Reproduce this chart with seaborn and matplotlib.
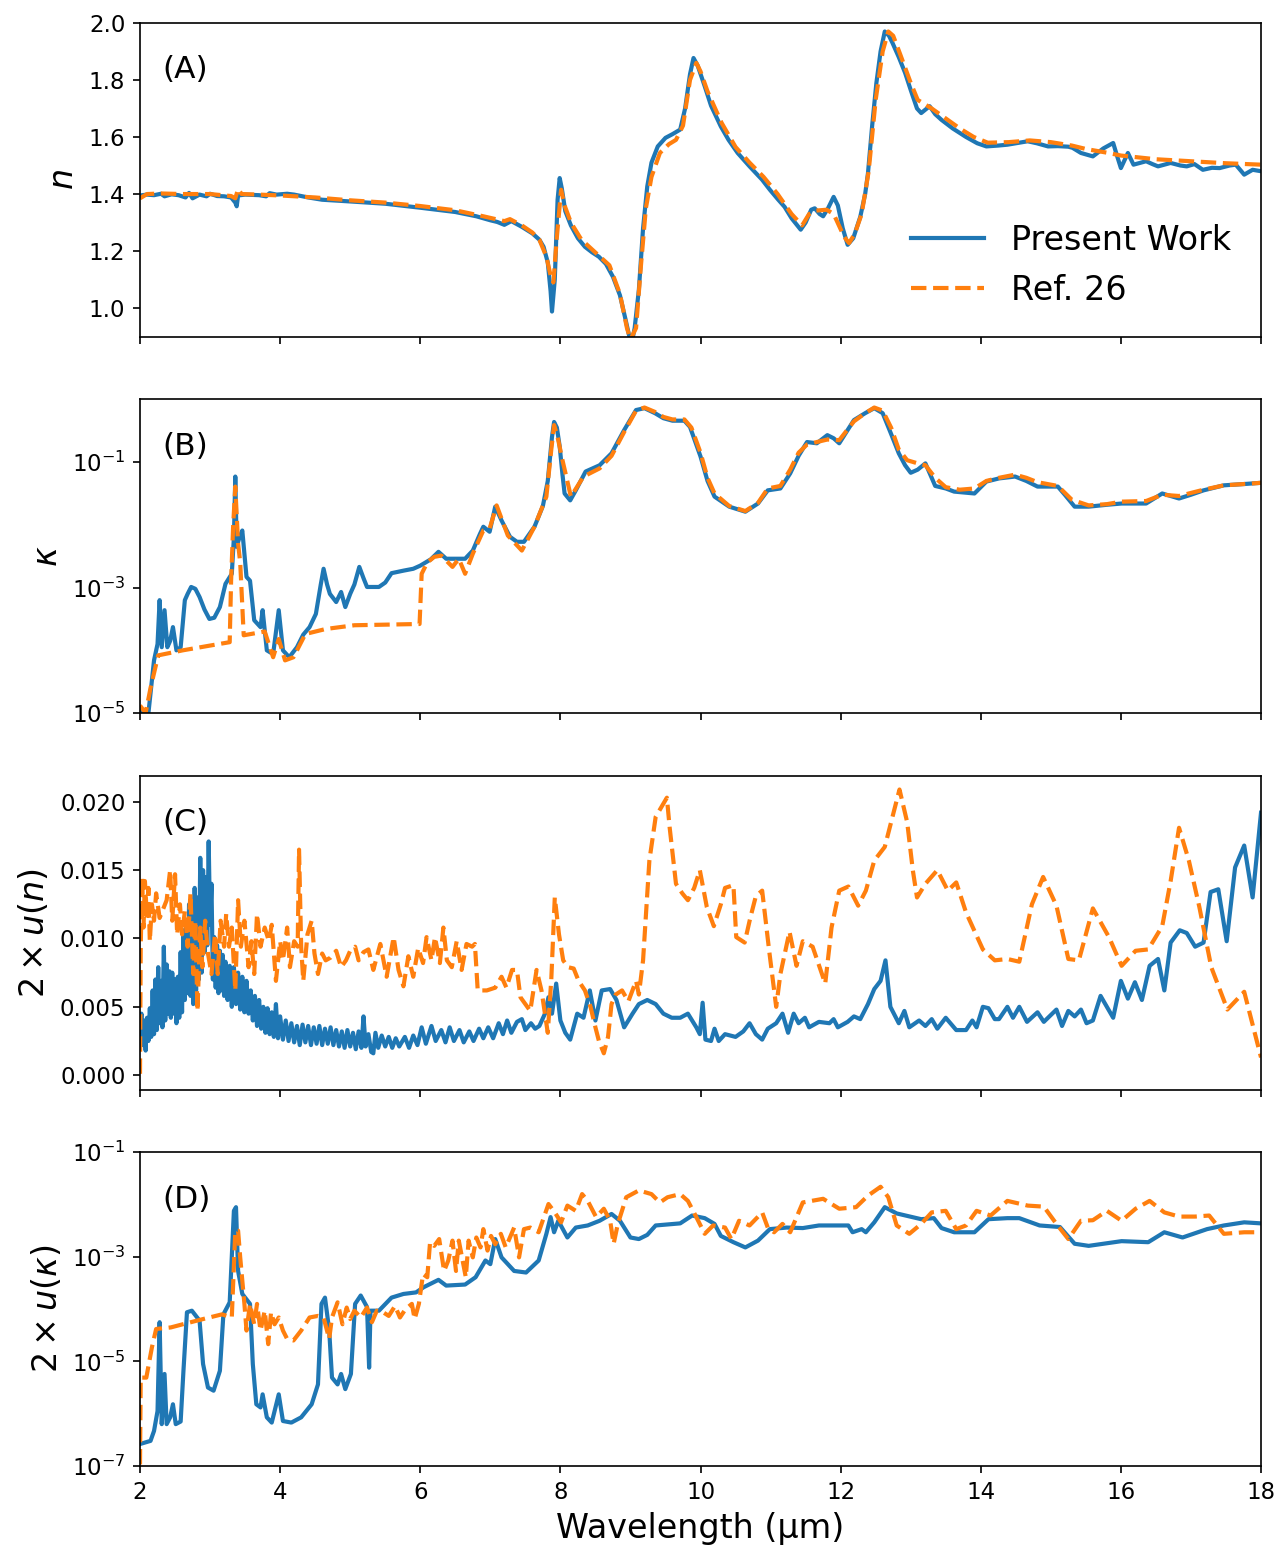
import numpy as np
import matplotlib
matplotlib.use("Agg")
import matplotlib.pyplot as plt
import seaborn as sns
from matplotlib.ticker import NullLocator

# digitised curves, columns: wavelength (um), value
# (A) refractive index n
n_present = np.array([
    (2.0, 1.395), (2.1, 1.398), (2.2, 1.396), (2.3, 1.401), (2.35, 1.392), (2.45, 1.399),
    (2.55, 1.396), (2.65, 1.388), (2.7, 1.404), (2.75, 1.385), (2.85, 1.398), (2.95, 1.392),
    (3.0, 1.401), (3.1, 1.393), (3.2, 1.392), (3.3, 1.388), (3.36, 1.370), (3.38, 1.357),
    (3.4, 1.395), (3.5, 1.398), (3.7, 1.396), (3.8, 1.392), (3.85, 1.403), (3.95, 1.398),
    (4.1, 1.401), (4.2, 1.398), (4.4, 1.388), (4.6, 1.380), (5.0, 1.374), (5.5, 1.366),
    (6.0, 1.352), (6.5, 1.337), (6.8, 1.322), (7.0, 1.308), (7.1, 1.302), (7.2, 1.292),
    (7.3, 1.305), (7.45, 1.285), (7.6, 1.262), (7.7, 1.240), (7.76, 1.215), (7.82, 1.160),
    (7.86, 1.060), (7.88, 0.988), (7.92, 1.100), (7.96, 1.380), (7.99, 1.456), (8.02, 1.420),
    (8.07, 1.340), (8.15, 1.290), (8.25, 1.245), (8.35, 1.215), (8.45, 1.196), (8.55, 1.180),
    (8.65, 1.155), (8.75, 1.110), (8.85, 1.045), (8.93, 0.960), (8.98, 0.905), (9.02, 0.880),
    (9.06, 0.930), (9.12, 1.064), (9.18, 1.280), (9.24, 1.427), (9.3, 1.510), (9.39, 1.567),
    (9.5, 1.597), (9.6, 1.610), (9.71, 1.626), (9.78, 1.700), (9.85, 1.820), (9.9, 1.877),
    (9.96, 1.850), (10.06, 1.778), (10.15, 1.710), (10.29, 1.637), (10.4, 1.590), (10.53, 1.544),
    (10.7, 1.497), (10.88, 1.450), (10.99, 1.415), (11.11, 1.380), (11.2, 1.355), (11.3, 1.315),
    (11.43, 1.275), (11.5, 1.300), (11.58, 1.345), (11.63, 1.350), (11.7, 1.330), (11.75, 1.322),
    (11.82, 1.350), (11.9, 1.390), (11.96, 1.360), (12.03, 1.280), (12.1, 1.222), (12.18, 1.245),
    (12.28, 1.320), (12.35, 1.400), (12.39, 1.473), (12.45, 1.640), (12.51, 1.789), (12.57, 1.900),
    (12.63, 1.970), (12.69, 1.955), (12.74, 1.930), (12.83, 1.880), (12.92, 1.825), (13.0, 1.765),
    (13.09, 1.700), (13.15, 1.684), (13.27, 1.708), (13.35, 1.680), (13.44, 1.660), (13.6, 1.630),
    (13.79, 1.600), (13.95, 1.578), (14.08, 1.567), (14.25, 1.570), (14.38, 1.573), (14.55, 1.580),
    (14.67, 1.585), (14.8, 1.578), (14.96, 1.567), (15.1, 1.568), (15.25, 1.566), (15.31, 1.562),
    (15.43, 1.544), (15.6, 1.532), (15.75, 1.560), (15.89, 1.579), (15.95, 1.530), (16.0, 1.491),
    (16.1, 1.544), (16.18, 1.503), (16.36, 1.515), (16.45, 1.505), (16.53, 1.497), (16.71, 1.509),
    (16.85, 1.500), (16.94, 1.497), (17.05, 1.505), (17.17, 1.485), (17.3, 1.492), (17.41, 1.491),
    (17.55, 1.500), (17.64, 1.503), (17.76, 1.468), (17.88, 1.485), (18.0, 1.480)])

n_ref = np.array([
    (2.0, 1.385), (2.1, 1.400), (2.3, 1.402), (2.6, 1.400), (3.0, 1.400), (3.3, 1.393),
    (3.36, 1.385), (3.4, 1.418), (3.45, 1.400), (3.7, 1.398), (4.0, 1.395), (4.5, 1.388),
    (5.0, 1.378), (5.5, 1.370), (6.0, 1.358), (6.5, 1.343), (6.9, 1.322), (7.2, 1.305),
    (7.28, 1.312), (7.45, 1.290), (7.6, 1.265), (7.7, 1.240), (7.8, 1.180), (7.86, 1.115),
    (7.9, 1.090), (7.95, 1.250), (8.01, 1.415), (8.06, 1.360), (8.15, 1.300), (8.3, 1.240),
    (8.5, 1.195), (8.7, 1.150), (8.85, 1.050), (8.95, 0.930), (9.0, 0.890), (9.08, 0.930),
    (9.15, 1.150), (9.22, 1.350), (9.3, 1.460), (9.42, 1.544), (9.55, 1.575), (9.65, 1.590),
    (9.75, 1.640), (9.85, 1.800), (9.94, 1.860), (10.0, 1.830), (10.1, 1.760), (10.3, 1.650),
    (10.5, 1.565), (10.7, 1.510), (10.9, 1.460), (11.1, 1.400), (11.3, 1.330), (11.45, 1.290),
    (11.55, 1.330), (11.65, 1.342), (11.8, 1.345), (11.9, 1.330), (12.05, 1.250), (12.12, 1.228),
    (12.2, 1.260), (12.3, 1.330), (12.4, 1.480), (12.5, 1.730), (12.6, 1.900), (12.68, 1.970),
    (12.75, 1.955), (12.85, 1.890), (13.0, 1.790), (13.1, 1.730), (13.3, 1.700), (13.5, 1.665),
    (13.7, 1.630), (13.9, 1.600), (14.1, 1.580), (14.4, 1.582), (14.7, 1.588), (15.0, 1.582),
    (15.3, 1.570), (15.5, 1.558), (15.8, 1.545), (16.0, 1.535), (16.5, 1.522), (17.0, 1.515),
    (17.5, 1.508), (18.0, 1.503)])

# (B) extinction coefficient, stored as log10(kappa)
k_present_log = np.array([
    (2.0, -4.96), (2.08, -5.05), (2.12, -5.0), (2.2, -4.16), (2.25, -3.9), (2.28, -3.2),
    (2.31, -3.95), (2.35, -3.36), (2.39, -3.95), (2.43, -3.85), (2.47, -3.63), (2.52, -4.0),
    (2.58, -3.95), (2.64, -3.2), (2.68, -3.1), (2.73, -2.99), (2.79, -3.02), (2.85, -3.15),
    (2.92, -3.35), (2.99, -3.5), (3.06, -3.48), (3.14, -3.31), (3.22, -2.94), (3.31, -2.78),
    (3.34, -2.2), (3.36, -1.23), (3.38, -2.35), (3.42, -2.2), (3.46, -2.09), (3.52, -2.83),
    (3.57, -2.89), (3.63, -3.52), (3.72, -3.63), (3.75, -3.36), (3.81, -4.0), (3.9, -4.06),
    (3.98, -3.36), (4.04, -4.0), (4.13, -4.11), (4.24, -3.95), (4.33, -3.75), (4.42, -3.63),
    (4.51, -3.42), (4.58, -2.95), (4.62, -2.70), (4.67, -2.95), (4.71, -3.10), (4.8, -3.23),
    (4.87, -3.07), (4.93, -3.31), (5.0, -3.1), (5.06, -2.95), (5.13, -2.67), (5.19, -2.85),
    (5.24, -2.99), (5.41, -2.99), (5.5, -2.92), (5.59, -2.77), (5.76, -2.73), (5.9, -2.70),
    (6.0, -2.65), (6.15, -2.55), (6.26, -2.43), (6.37, -2.54), (6.5, -2.54), (6.64, -2.54),
    (6.75, -2.41), (6.85, -2.15), (6.9, -2.03), (6.99, -2.11), (7.07, -1.71), (7.16, -1.93),
    (7.28, -2.19), (7.38, -2.27), (7.48, -2.27), (7.63, -2.03), (7.75, -1.70), (7.82, -1.30),
    (7.88, -0.60), (7.91, -0.36), (7.95, -0.45), (7.99, -0.75), (8.03, -1.20), (8.06, -1.5),
    (8.14, -1.61), (8.22, -1.45), (8.36, -1.15), (8.56, -1.05), (8.73, -0.86), (8.91, -0.49),
    (9.08, -0.17), (9.2, -0.14), (9.35, -0.22), (9.47, -0.30), (9.6, -0.34), (9.77, -0.34),
    (9.85, -0.44), (10.0, -0.91), (10.1, -1.30), (10.2, -1.55), (10.41, -1.71), (10.64, -1.79),
    (10.82, -1.66), (10.96, -1.45), (11.14, -1.42), (11.28, -1.18), (11.4, -0.90), (11.52, -0.68),
    (11.66, -0.70), (11.81, -0.57), (11.9, -0.62), (11.98, -0.70), (12.19, -0.33), (12.35, -0.22),
    (12.48, -0.14), (12.6, -0.22), (12.72, -0.55), (12.83, -0.86), (12.92, -1.05), (13.0, -1.17),
    (13.1, -1.12), (13.21, -1.02), (13.35, -1.38), (13.5, -1.42), (13.62, -1.47), (13.91, -1.50),
    (14.08, -1.31), (14.26, -1.26), (14.49, -1.23), (14.65, -1.30), (14.81, -1.39), (15.1, -1.39),
    (15.2, -1.52), (15.34, -1.71), (15.54, -1.71), (15.8, -1.68), (16.01, -1.66), (16.36, -1.66),
    (16.59, -1.50), (16.83, -1.58), (17.0, -1.52), (17.18, -1.45), (17.47, -1.37), (17.75, -1.35),
    (18.0, -1.33)])

k_ref_log = np.array([
    (2.0, -4.88), (2.08, -5.0), (2.15, -4.6), (2.26, -4.08), (2.61, -4.0), (3.02, -3.92),
    (3.28, -3.87), (3.30, -2.89), (3.33, -2.0), (3.36, -1.39), (3.40, -2.3), (3.43, -2.6),
    (3.48, -3.76), (3.78, -3.70), (3.9, -4.11), (3.98, -3.82), (4.07, -4.16), (4.19, -4.11),
    (4.36, -3.74), (4.65, -3.66), (5.06, -3.60), (5.53, -3.59), (5.99, -3.58), (6.02, -2.78),
    (6.1, -2.6), (6.2, -2.51), (6.3, -2.49), (6.46, -2.67), (6.55, -2.54), (6.64, -2.78),
    (6.75, -2.46), (6.9, -2.09), (6.99, -2.06), (7.09, -1.69), (7.25, -2.17), (7.45, -2.41),
    (7.63, -2.03), (7.8, -1.55), (7.87, -0.80), (7.91, -0.41), (7.96, -0.60), (8.03, -0.97),
    (8.15, -1.55), (8.33, -1.23), (8.56, -1.10), (8.73, -0.90), (8.91, -0.52), (9.08, -0.18),
    (9.2, -0.13), (9.35, -0.20), (9.47, -0.28), (9.6, -0.32), (9.77, -0.32), (9.87, -0.45),
    (10.0, -0.85), (10.1, -1.25), (10.2, -1.50), (10.41, -1.70), (10.64, -1.78), (10.82, -1.65),
    (10.96, -1.42), (11.14, -1.38), (11.28, -1.12), (11.4, -0.85), (11.52, -0.72), (11.66, -0.68),
    (11.81, -0.64), (11.98, -0.65), (12.19, -0.35), (12.35, -0.22), (12.48, -0.13), (12.6, -0.18),
    (12.72, -0.45), (12.83, -0.80), (12.95, -0.97), (13.1, -1.02), (13.21, -1.05), (13.35, -1.25),
    (13.5, -1.40), (13.7, -1.44), (13.91, -1.42), (14.08, -1.30), (14.26, -1.25), (14.49, -1.20),
    (14.65, -1.25), (14.81, -1.32), (15.1, -1.38), (15.3, -1.60), (15.54, -1.69), (15.8, -1.67),
    (16.01, -1.63), (16.36, -1.62), (16.59, -1.52), (16.83, -1.54), (17.18, -1.44), (17.47, -1.37),
    (17.75, -1.35), (18.0, -1.33)])

# (C) 2 x u(n)
un_present = np.array([
    (2.00, 0.0030), (2.02, 0.0045), (2.04, 0.0022), (2.06, 0.0040), (2.08, 0.0018), (2.10, 0.0042),
    (2.12, 0.0025), (2.14, 0.0049), (2.16, 0.0028), (2.18, 0.0062), (2.20, 0.0030), (2.22, 0.0070),
    (2.24, 0.0033), (2.26, 0.0079), (2.28, 0.0038), (2.30, 0.0069), (2.32, 0.0035), (2.34, 0.0094),
    (2.36, 0.0040), (2.38, 0.0081), (2.40, 0.0045), (2.42, 0.0076), (2.44, 0.0042), (2.46, 0.0075),
    (2.48, 0.0045), (2.50, 0.0070), (2.52, 0.0038), (2.54, 0.0072), (2.56, 0.0042), (2.58, 0.0090),
    (2.60, 0.0046), (2.62, 0.0106), (2.64, 0.0055), (2.66, 0.0112), (2.68, 0.0060), (2.70, 0.0125),
    (2.72, 0.0058), (2.74, 0.0120), (2.76, 0.0052), (2.78, 0.0137), (2.80, 0.0062), (2.82, 0.0130),
    (2.84, 0.0070), (2.86, 0.0159), (2.88, 0.0075), (2.90, 0.0150), (2.92, 0.0090), (2.94, 0.0145),
    (2.96, 0.0095), (2.98, 0.0171), (3.00, 0.0110), (3.02, 0.0140), (3.04, 0.0070), (3.06, 0.0101),
    (3.08, 0.0064), (3.10, 0.0095), (3.12, 0.0060), (3.14, 0.0091), (3.16, 0.0062), (3.18, 0.0088),
    (3.20, 0.0058), (3.22, 0.0083), (3.25, 0.0055), (3.28, 0.0080), (3.31, 0.0050), (3.34, 0.0079),
    (3.37, 0.0052), (3.40, 0.0075), (3.43, 0.0048), (3.46, 0.0072), (3.49, 0.0046), (3.52, 0.0069),
    (3.55, 0.0045), (3.58, 0.0062), (3.61, 0.0040), (3.64, 0.0058), (3.67, 0.0036), (3.70, 0.0055),
    (3.73, 0.0034), (3.76, 0.0050), (3.79, 0.0031), (3.82, 0.0049), (3.85, 0.0030), (3.88, 0.0046),
    (3.91, 0.0028), (3.94, 0.0052), (3.97, 0.0027), (4.00, 0.0043), (4.04, 0.0026), (4.08, 0.0040),
    (4.12, 0.0025), (4.16, 0.0038), (4.20, 0.0024), (4.24, 0.0036), (4.28, 0.0022), (4.32, 0.0037),
    (4.36, 0.0024), (4.40, 0.0036), (4.44, 0.0022), (4.48, 0.0035), (4.52, 0.0023), (4.56, 0.0036),
    (4.60, 0.0022), (4.64, 0.0034), (4.68, 0.0023), (4.72, 0.0035), (4.76, 0.0022), (4.80, 0.0033),
    (4.84, 0.0021), (4.88, 0.0032), (4.92, 0.0020), (4.96, 0.0033), (5.00, 0.0021), (5.04, 0.0031),
    (5.08, 0.0019), (5.12, 0.0032), (5.16, 0.0020), (5.19, 0.0043), (5.22, 0.0021), (5.26, 0.0030),
    (5.30, 0.0017), (5.33, 0.0016), (5.36, 0.0031), (5.40, 0.0020), (5.45, 0.0029), (5.50, 0.0021),
    (5.55, 0.0028), (5.60, 0.0020), (5.65, 0.0027), (5.70, 0.0021), (5.78, 0.0028), (5.84, 0.0020),
    (5.90, 0.0029), (5.96, 0.0022), (6.02, 0.0035), (6.08, 0.0023), (6.16, 0.0036), (6.22, 0.0025),
    (6.30, 0.0033), (6.36, 0.0024), (6.42, 0.0035), (6.48, 0.0025), (6.56, 0.0033), (6.62, 0.0024),
    (6.70, 0.0032), (6.76, 0.0025), (6.84, 0.0034), (6.90, 0.0027), (6.97, 0.0035), (7.04, 0.0027),
    (7.12, 0.0038), (7.18, 0.0030), (7.24, 0.0040), (7.30, 0.0031), (7.38, 0.0039), (7.45, 0.0041),
    (7.50, 0.0033), (7.58, 0.0038), (7.64, 0.0034), (7.70, 0.0036), (7.78, 0.0045), (7.83, 0.0057),
    (7.88, 0.0045), (7.94, 0.0067), (8.00, 0.0040), (8.07, 0.0031), (8.14, 0.0026), (8.24, 0.0045),
    (8.33, 0.0042), (8.42, 0.0062), (8.5, 0.0040), (8.59, 0.0062), (8.71, 0.0063), (8.8, 0.0055),
    (8.91, 0.0035), (9.03, 0.0045), (9.12, 0.0052), (9.24, 0.0055), (9.36, 0.0052), (9.47, 0.0045),
    (9.59, 0.0042), (9.71, 0.0042), (9.82, 0.0045), (9.94, 0.0035), (9.99, 0.0030), (10.03, 0.0053),
    (10.07, 0.0026), (10.15, 0.0025), (10.2, 0.0034), (10.26, 0.0025), (10.35, 0.0030), (10.5, 0.0028),
    (10.61, 0.0032), (10.7, 0.0038), (10.79, 0.0030), (10.88, 0.0026), (10.96, 0.0034), (11.08, 0.0038),
    (11.17, 0.0045), (11.25, 0.0031), (11.33, 0.0045), (11.4, 0.0038), (11.49, 0.0042), (11.55, 0.0035),
    (11.69, 0.0039), (11.84, 0.0038), (11.9, 0.0041), (11.96, 0.0035), (12.1, 0.0039), (12.19, 0.0043),
    (12.28, 0.0041), (12.39, 0.0052), (12.48, 0.0063), (12.57, 0.0069), (12.64, 0.0084), (12.71, 0.0050),
    (12.83, 0.0038), (12.91, 0.0047), (12.98, 0.0035), (13.12, 0.0040), (13.21, 0.0036), (13.3, 0.0041),
    (13.38, 0.0034), (13.5, 0.0042), (13.65, 0.0033), (13.79, 0.0033), (13.88, 0.0040), (13.94, 0.0035),
    (14.03, 0.0050), (14.11, 0.0049), (14.2, 0.0041), (14.26, 0.0041), (14.38, 0.0050), (14.46, 0.0042),
    (14.55, 0.0050), (14.66, 0.0039), (14.81, 0.0046), (14.9, 0.0039), (15.08, 0.0048), (15.16, 0.0036),
    (15.25, 0.0047), (15.34, 0.0043), (15.43, 0.0048), (15.51, 0.0038), (15.6, 0.0040), (15.71, 0.0058),
    (15.89, 0.0042), (16.0, 0.0069), (16.1, 0.0056), (16.2, 0.0068), (16.3, 0.0055), (16.41, 0.0080),
    (16.53, 0.0085), (16.62, 0.0062), (16.71, 0.0097), (16.84, 0.0106), (16.94, 0.0104), (17.06, 0.0094),
    (17.18, 0.0097), (17.28, 0.0134), (17.39, 0.0136), (17.51, 0.0098), (17.63, 0.0152), (17.76, 0.0168),
    (17.88, 0.0130), (18.0, 0.0192)])

un_ref = np.array([
    (2.0, 0.0001), (2.01, 0.0094), (2.03, 0.0145), (2.05, 0.0108), (2.07, 0.0142), (2.1, 0.0115),
    (2.12, 0.0137), (2.14, 0.0098), (2.17, 0.0125), (2.2, 0.0113), (2.23, 0.0133), (2.28, 0.0115),
    (2.38, 0.0128), (2.43, 0.0150), (2.46, 0.0113), (2.5, 0.0147), (2.53, 0.0103), (2.57, 0.0125),
    (2.6, 0.0103), (2.64, 0.0120), (2.68, 0.0094), (2.72, 0.0133), (2.76, 0.0074), (2.79, 0.0113),
    (2.82, 0.0047), (2.86, 0.0108), (2.89, 0.0079), (2.93, 0.0113), (2.97, 0.0089), (3.02, 0.0074),
    (3.07, 0.0103), (3.11, 0.0074), (3.15, 0.0113), (3.2, 0.0094), (3.23, 0.0118), (3.27, 0.0094),
    (3.31, 0.0108), (3.36, 0.0062), (3.4, 0.0128), (3.44, 0.0094), (3.49, 0.0113), (3.55, 0.0079),
    (3.59, 0.0098), (3.63, 0.0074), (3.67, 0.0118), (3.72, 0.0094), (3.78, 0.0108), (3.84, 0.0098),
    (3.88, 0.0110), (3.94, 0.0069), (4.0, 0.0098), (4.04, 0.0084), (4.1, 0.0108), (4.14, 0.0079),
    (4.2, 0.0098), (4.25, 0.0094), (4.27, 0.0165), (4.3, 0.0094), (4.33, 0.0069), (4.39, 0.0103),
    (4.45, 0.0113), (4.49, 0.0089), (4.54, 0.0074), (4.6, 0.0089), (4.65, 0.0084), (4.72, 0.0086),
    (4.8, 0.0091), (4.87, 0.0079), (4.94, 0.0084), (5.0, 0.0091), (5.07, 0.0094), (5.12, 0.0084),
    (5.19, 0.0090), (5.26, 0.0092), (5.33, 0.0077), (5.43, 0.0096), (5.52, 0.0072), (5.62, 0.0101),
    (5.69, 0.0077), (5.76, 0.0065), (5.83, 0.0087), (5.9, 0.0072), (5.97, 0.0093), (6.04, 0.0082),
    (6.09, 0.0101), (6.16, 0.0084), (6.21, 0.0101), (6.28, 0.0082), (6.33, 0.0108), (6.38, 0.0084),
    (6.45, 0.0079), (6.52, 0.0098), (6.59, 0.0077), (6.66, 0.0096), (6.74, 0.0094), (6.78, 0.0096),
    (6.82, 0.0062), (6.95, 0.0062), (7.07, 0.0064), (7.16, 0.0072), (7.23, 0.0064), (7.31, 0.0077),
    (7.38, 0.0077), (7.43, 0.0057), (7.5, 0.0052), (7.57, 0.0047), (7.66, 0.0077), (7.73, 0.0062),
    (7.82, 0.0031), (7.87, 0.0070), (7.92, 0.0130), (7.98, 0.0103), (8.04, 0.0084), (8.11, 0.0079),
    (8.19, 0.0078), (8.26, 0.0069), (8.35, 0.0062), (8.43, 0.0050), (8.5, 0.0035), (8.55, 0.0025),
    (8.62, 0.0016), (8.68, 0.0028), (8.73, 0.0052), (8.79, 0.0059), (8.88, 0.0062), (8.97, 0.0054),
    (9.08, 0.0069), (9.12, 0.0059), (9.18, 0.0084), (9.27, 0.0157), (9.36, 0.0189), (9.52, 0.0203),
    (9.56, 0.0181), (9.65, 0.0140), (9.74, 0.0133), (9.82, 0.0128), (9.91, 0.0137), (9.99, 0.0150),
    (10.09, 0.0123), (10.19, 0.0109), (10.29, 0.0125), (10.35, 0.0137), (10.47, 0.0139), (10.51, 0.0101),
    (10.63, 0.0097), (10.71, 0.0115), (10.79, 0.0131), (10.88, 0.0135), (10.98, 0.0091), (11.08, 0.0050),
    (11.14, 0.0074), (11.27, 0.0105), (11.37, 0.0080), (11.46, 0.0098), (11.6, 0.0094), (11.78, 0.0067),
    (11.87, 0.0108), (11.98, 0.0135), (12.11, 0.0138), (12.25, 0.0124), (12.36, 0.0135), (12.48, 0.0157),
    (12.63, 0.0167), (12.74, 0.0189), (12.84, 0.0209), (12.95, 0.0185), (13.03, 0.0150), (13.09, 0.0130),
    (13.21, 0.0140), (13.38, 0.0150), (13.53, 0.0135), (13.65, 0.0141), (13.79, 0.0119), (14.03, 0.0092),
    (14.2, 0.0084), (14.38, 0.0085), (14.55, 0.0083), (14.73, 0.0125), (14.89, 0.0145), (15.08, 0.0124),
    (15.25, 0.0085), (15.4, 0.0084), (15.6, 0.0122), (15.83, 0.0101), (16.01, 0.0080), (16.21, 0.0091),
    (16.39, 0.0092), (16.59, 0.0109), (16.71, 0.0142), (16.83, 0.0181), (16.97, 0.0157), (17.12, 0.0123),
    (17.29, 0.0079), (17.52, 0.0048), (17.76, 0.0061), (18.0, 0.0013)])

# (D) 2 x u(kappa), stored as log10
uk_present_log = np.array([
    (2.0, -6.58), (2.15, -6.52), (2.2, -6.33), (2.25, -5.95), (2.28, -4.25), (2.31, -6.2),
    (2.35, -5.24), (2.38, -6.2), (2.43, -6.07), (2.47, -5.82), (2.51, -6.2), (2.58, -6.15),
    (2.62, -5.18), (2.67, -4.06), (2.74, -4.03), (2.85, -4.22), (2.9, -5.05), (2.97, -5.5),
    (3.05, -5.56), (3.14, -5.18), (3.19, -4.1), (3.28, -3.87), (3.34, -2.12), (3.37, -2.05),
    (3.4, -3.27), (3.46, -3.71), (3.57, -3.9), (3.61, -5.05), (3.66, -5.82), (3.72, -5.88),
    (3.75, -5.63), (3.81, -6.07), (3.88, -6.17), (3.98, -5.63), (4.04, -6.14), (4.16, -6.17),
    (4.3, -6.07), (4.45, -5.82), (4.54, -5.44), (4.59, -3.9), (4.64, -3.78), (4.7, -4.4),
    (4.74, -5.31), (4.82, -5.44), (4.87, -5.24), (4.93, -5.53), (5.01, -5.24), (5.07, -3.9),
    (5.15, -3.74), (5.24, -3.96), (5.27, -5.12), (5.29, -4.03), (5.41, -4.03), (5.59, -3.78),
    (5.76, -3.71), (5.94, -3.68), (6.05, -3.58), (6.26, -3.44), (6.37, -3.55), (6.64, -3.53),
    (6.79, -3.39), (6.93, -3.07), (7.0, -3.14), (7.07, -2.66), (7.16, -3.01), (7.34, -3.27),
    (7.51, -3.30), (7.69, -3.07), (7.8, -2.56), (7.86, -2.24), (7.91, -2.53), (7.97, -2.31),
    (8.1, -2.63), (8.22, -2.44), (8.39, -2.40), (8.56, -2.31), (8.73, -2.18), (8.85, -2.31),
    (9.0, -2.63), (9.12, -2.66), (9.24, -2.58), (9.36, -2.40), (9.71, -2.36), (9.88, -2.21),
    (10.06, -2.26), (10.2, -2.37), (10.29, -2.60), (10.47, -2.72), (10.64, -2.82), (10.82, -2.69),
    (10.99, -2.47), (11.23, -2.44), (11.46, -2.45), (11.69, -2.40), (11.93, -2.40), (12.11, -2.40),
    (12.17, -2.53), (12.3, -2.47), (12.36, -2.53), (12.48, -2.34), (12.63, -2.05), (12.8, -2.17),
    (13.15, -2.28), (13.33, -2.26), (13.44, -2.45), (13.62, -2.53), (13.91, -2.53), (14.11, -2.28),
    (14.38, -2.26), (14.55, -2.26), (14.84, -2.40), (15.13, -2.43), (15.34, -2.75), (15.54, -2.79),
    (16.01, -2.70), (16.39, -2.72), (16.62, -2.53), (16.88, -2.63), (17.23, -2.47), (17.47, -2.40),
    (17.76, -2.34), (18.0, -2.36)])

uk_ref_log = np.array([
    (2.0, -6.97), (2.01, -5.31), (2.09, -5.31), (2.17, -4.73), (2.23, -4.38), (2.44, -4.35),
    (2.61, -4.29), (2.9, -4.19), (3.17, -4.10), (3.31, -4.16), (3.36, -2.50), (3.4, -2.50),
    (3.43, -3.01), (3.49, -3.90), (3.52, -4.41), (3.57, -3.90), (3.63, -4.29), (3.67, -3.90),
    (3.72, -4.41), (3.78, -4.03), (3.83, -4.67), (3.87, -4.06), (3.92, -4.29), (3.98, -4.16),
    (4.04, -4.41), (4.1, -4.57), (4.19, -4.60), (4.3, -4.41), (4.42, -4.16), (4.54, -4.13),
    (4.62, -4.16), (4.7, -4.57), (4.74, -4.16), (4.82, -3.87), (4.89, -4.29), (4.95, -3.97),
    (5.0, -4.19), (5.06, -4.03), (5.15, -4.16), (5.24, -3.97), (5.31, -4.25), (5.38, -4.03),
    (5.47, -4.06), (5.55, -4.13), (5.64, -3.94), (5.71, -4.16), (5.79, -4.00), (5.88, -3.90),
    (5.92, -4.19), (5.98, -3.90), (6.04, -3.33), (6.1, -3.39), (6.14, -2.72), (6.2, -2.79),
    (6.27, -2.66), (6.34, -3.27), (6.4, -3.07), (6.46, -2.69), (6.51, -3.27), (6.55, -2.69),
    (6.61, -3.11), (6.65, -3.39), (6.69, -2.69), (6.75, -3.01), (6.8, -2.63), (6.86, -2.82),
    (6.9, -2.47), (6.96, -2.88), (7.01, -2.60), (7.07, -2.76), (7.15, -2.56), (7.22, -2.82),
    (7.28, -2.63), (7.34, -2.44), (7.41, -3.01), (7.48, -2.47), (7.57, -2.44), (7.69, -2.53),
    (7.83, -1.99), (7.92, -2.15), (8.01, -2.34), (8.1, -2.02), (8.22, -2.12), (8.31, -1.80),
    (8.39, -1.93), (8.51, -2.24), (8.62, -2.08), (8.71, -2.31), (8.76, -2.75), (8.82, -2.37),
    (8.94, -1.86), (9.12, -1.73), (9.3, -1.80), (9.42, -1.96), (9.53, -1.86), (9.71, -1.80),
    (9.82, -1.93), (9.94, -2.24), (10.06, -2.56), (10.18, -2.40), (10.35, -2.44), (10.44, -2.66),
    (10.55, -2.31), (10.7, -2.40), (10.88, -2.15), (10.96, -2.44), (11.05, -2.53), (11.17, -2.37),
    (11.28, -2.53), (11.46, -1.96), (11.75, -1.89), (11.98, -2.08), (12.22, -2.05), (12.39, -1.83),
    (12.57, -1.66), (12.68, -1.86), (12.8, -2.40), (12.98, -2.56), (13.15, -2.37), (13.3, -2.15),
    (13.5, -2.12), (13.65, -2.47), (13.79, -2.40), (13.94, -2.12), (14.14, -2.21), (14.38, -1.93),
    (14.67, -2.02), (14.9, -2.04), (15.08, -2.37), (15.25, -2.66), (15.43, -2.31), (15.6, -2.30),
    (15.8, -2.12), (16.01, -2.31), (16.21, -2.08), (16.41, -1.93), (16.62, -2.15), (16.83, -2.23),
    (17.06, -2.23), (17.26, -2.21), (17.47, -2.56), (17.76, -2.53), (18.0, -2.53)])

panel_tags = ["(A)", "(B)", "(C)", "(D)"]
ylabels = [r"$n$", r"$\kappa$", r"$2\times u(n)$", r"$2\times u(\kappa)$"]
series_names = ["Present Work", "Ref. 26"]

blue, orange = "#1f77b4", "#ff7f0e"

fig, axes = plt.subplots(4, 1, sharex=True, figsize=(1281 / 150, 1549 / 150), dpi=150)
fig.subplots_adjust(left=0.1093, right=0.9844, top=0.9852, bottom=0.0536, hspace=0.2)

panels = [(n_present, n_ref, False), (k_present_log, k_ref_log, True),
          (un_present, un_ref, False), (uk_present_log, uk_ref_log, True)]

for i, (ax, (pw, ref, islog)) in enumerate(zip(axes, panels)):
    y_pw = 10 ** pw[:, 1] if islog else pw[:, 1]
    y_ref = 10 ** ref[:, 1] if islog else ref[:, 1]
    lab_pw = series_names[0] if i == 0 else None
    lab_ref = series_names[1] if i == 0 else None
    sns.lineplot(x=pw[:, 0], y=y_pw, ax=ax, color=blue, lw=2, sort=False,
                 estimator=None, label=lab_pw)
    sns.lineplot(x=ref[:, 0], y=y_ref, ax=ax, color=orange, lw=2, linestyle="--",
                 sort=False, estimator=None, label=lab_ref)
    if islog:
        ax.set_yscale("log")
        ax.yaxis.set_minor_locator(NullLocator())
    if ax.get_legend() is not None:
        ax.get_legend().remove()
    ax.set_ylabel(ylabels[i], fontsize=16)
    ax.text(0.02, 0.85, panel_tags[i], transform=ax.transAxes, fontsize=15, va="center")
    ax.tick_params(labelsize=11)

axes[0].set_ylim(0.9, 2.0)
axes[0].set_yticks([1.0, 1.2, 1.4, 1.6, 1.8, 2.0])
axes[1].set_ylim(1e-5, 1.0)
axes[1].set_yticks([1e-5, 1e-3, 1e-1])
axes[2].set_ylim(-0.00105, 0.0219)
axes[2].set_yticks([0.0, 0.005, 0.010, 0.015, 0.020])
axes[2].set_yticklabels(["0.000", "0.005", "0.010", "0.015", "0.020"])
axes[3].set_ylim(1e-7, 1e-1)
axes[3].set_yticks([1e-7, 1e-5, 1e-3, 1e-1])

axes[3].set_xlim(2, 18)
axes[3].set_xticks(range(2, 19, 2))
axes[3].set_xlabel("Wavelength (μm)", fontsize=16)

axes[0].legend(loc="lower right", frameon=False, fontsize=16, handlelength=2.2)

fig.savefig("out.png", dpi=150)
